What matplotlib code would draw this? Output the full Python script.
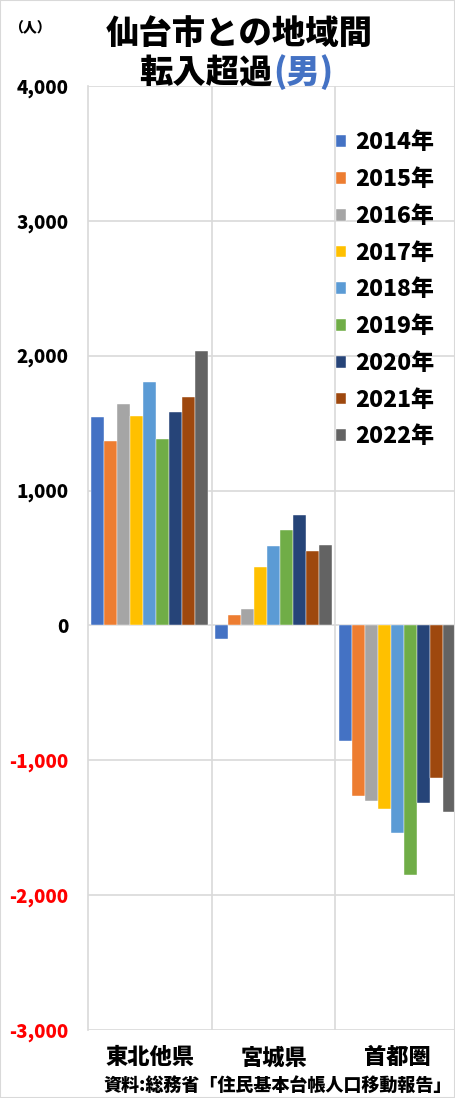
import numpy as np
import matplotlib.pyplot as plt
from matplotlib.patches import Rectangle

plt.rcParams['font.family'] = ['Noto Sans CJK JP', 'DejaVu Sans']

# 地域別・年別の転入超過数（男）
regions = ["東北他県", "宮城県", "首都圏"]
years = ["2014年", "2015年", "2016年", "2017年", "2018年",
         "2019年", "2020年", "2021年", "2022年"]
tohoku = [1545, 1370, 1642, 1556, 1805, 1385, 1585, 1694, 2035]
miyagi = [-100, 76, 123, 430, 592, 706, 819, 555, 597]
shutoken = [-856, -1268, -1302, -1364, -1542, -1853, -1315, -1132, -1381]
yticks = [-3000, -2000, -1000, 0, 1000, 2000, 3000, 4000]

colors = ["#4472C4", "#ED7D31", "#A5A5A5", "#FFC000", "#5B9BD5",
          "#70AD47", "#264478", "#9E480E", "#636363"]

W, H = 455, 1098
fig = plt.figure(figsize=(W / 100, H / 100), dpi=100)

# plot area in pixels
left, right, top, bottom = 88, 459, 86, 1030
cat_w = (right - left) / 3
ax = fig.add_axes([left / W, (H - bottom) / H, (right - left) / W, (bottom - top) / H])

values = np.array([tohoku, miyagi, shutoken])
x = np.arange(len(regions))
bw = 13 / cat_w
for i, yr in enumerate(years):
    ax.bar(x + (i - 4) * bw, values[:, i], width=bw, color=colors[i],
           edgecolor='white', linewidth=0.3, label=yr, zorder=3)

ax.set_xlim(-0.5, 2.5)
ax.set_ylim(-3000, 4000)
ax.set_yticks(yticks)
ax.set_yticklabels([f"{v:,}" if v >= 0 else f"-{abs(v):,}" for v in yticks])
for lbl, v in zip(ax.get_yticklabels(), yticks):
    lbl.set_color('#FF0000' if v < 0 else 'black')
    lbl.set_fontweight('heavy')
    lbl.set_fontsize(13.5)
    lbl.set_fontstyle('italic')
ax.tick_params(axis='y', length=0, pad=14)
ax.set_xticks([])
ax.set_xticks([0.5, 1.5], minor=True)
ax.tick_params(axis='x', which='both', length=0)
ax.grid(axis='y', color='#D9D9D9', linewidth=1.2, zorder=0)
ax.grid(axis='x', which='minor', color='#D9D9D9', linewidth=1.2, zorder=0)
for s in ['top', 'right']:
    ax.spines[s].set_visible(False)
ax.spines['left'].set_color('#D9D9D9')
ax.spines['left'].set_linewidth(1.2)
ax.spines['bottom'].set_visible(False)

# category labels under the plot
for xi, r in zip(x, regions):
    fig.text((left + (xi + 0.5) * cat_w) / W, (H - 1058) / H, r,
             ha='center', va='center', fontsize=16, fontweight='heavy')

# legend
leg = ax.legend(loc='upper left', bbox_to_anchor=(325 / W, (H - 120) / H),
                bbox_transform=fig.transFigure, frameon=False,
                fontsize=16.5, handlelength=0.4, handleheight=0.4,
                handletextpad=0.4, labelspacing=0.6, borderpad=0)
for t in leg.get_texts():
    t.set_fontweight('heavy')
    t.set_fontstyle('italic')

# titles
fig.text(239 / W, (H - 33) / H, "仙台市との地域間", ha='center', va='center',
         fontsize=24, fontweight='heavy')
fig.text(273 / W, (H - 72) / H, "転入超過", ha='right', va='center',
         fontsize=24, fontweight='heavy')
fig.text(273 / W, (H - 72) / H, "(男)", ha='left', va='center',
         fontsize=24, fontweight='heavy', color='#4472C4')
fig.text(30 / W, (H - 28) / H, "（人）", ha='center', va='center',
         fontsize=10, fontweight='heavy')
fig.text(452 / W, (H - 1085) / H, "資料:総務省「住民基本台帳人口移動報告」",
         ha='right', va='center', fontsize=13, fontweight='heavy')

# thin border round the image
fig.patches.append(Rectangle((0, 0), 1, 1, transform=fig.transFigure,
                             fill=False, edgecolor='#D9D9D9', linewidth=1.5))

fig.savefig("out.png", dpi=100)
